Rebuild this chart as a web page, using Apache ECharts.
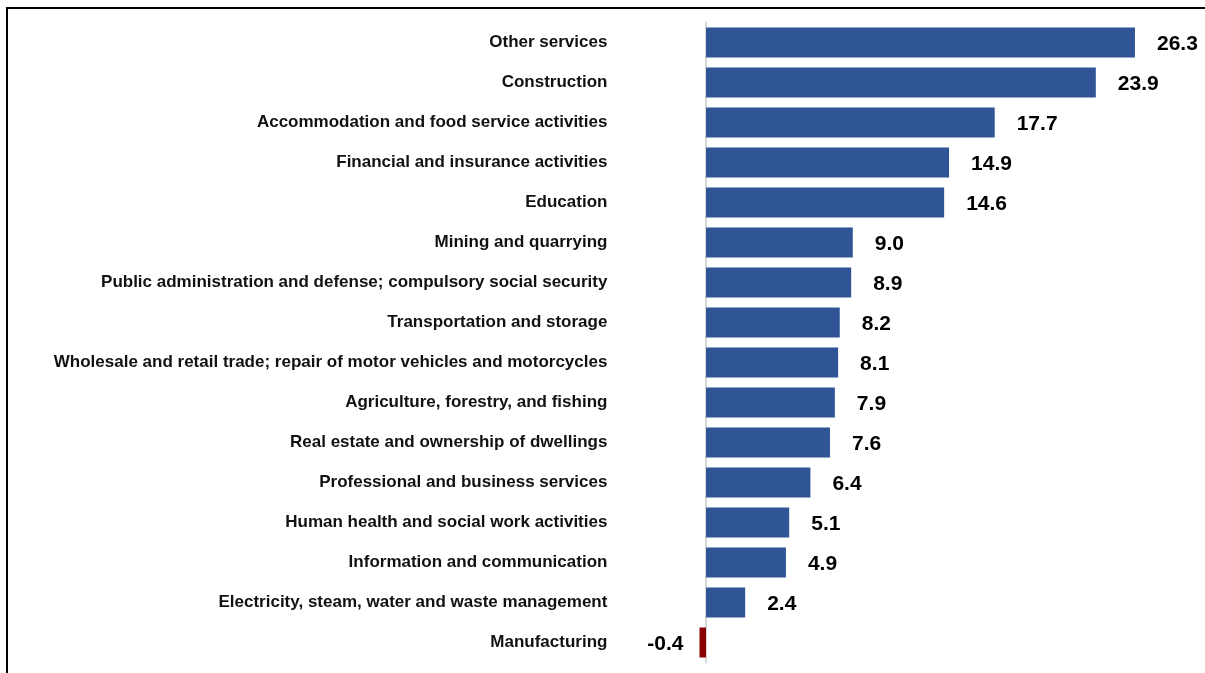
<!DOCTYPE html>
<html>
<head>
<meta charset="utf-8">
<script src="https://cdn.jsdelivr.net/npm/echarts@6/dist/echarts.min.js"></script>
<style>
html,body{margin:0;padding:0;background:#fff;}
#chart{width:1205px;height:673px;}
</style>
</head>
<body>
<div id="chart"></div>
<script>
const categories = [
  "Other services",
  "Construction",
  "Accommodation and food service activities",
  "Financial and insurance activities",
  "Education",
  "Mining and quarrying",
  "Public administration and defense; compulsory social security",
  "Transportation and storage",
  "Wholesale and retail trade; repair of motor vehicles and motorcycles",
  "Agriculture, forestry, and fishing",
  "Real estate and ownership of dwellings",
  "Professional and business services",
  "Human health and social work activities",
  "Information and communication",
  "Electricity, steam, water and waste management",
  "Manufacturing"
];
const values = [26.3, 23.9, 17.7, 14.9, 14.6, 9.0, 8.9, 8.2, 8.1, 7.9, 7.6, 6.4, 5.1, 4.9, 2.4, -0.4];

const chart = echarts.init(document.getElementById('chart'), null, {renderer: 'canvas'});
const FONT = '"Liberation Sans", Arial, sans-serif';
const data = values.map(v => ({
  value: v,
  itemStyle: {color: v < 0 ? '#8B0000' : '#2F5597'},
  label: v < 0 ? {position: 'left', distance: 16} : {position: 'right', distance: 22}
}));
chart.setOption({
  animation: false,
  backgroundColor: '#fff',
  graphic: [{
    type: 'rect',
    shape: {x: 7, y: 8, width: 1300, height: 800},
    style: {fill: 'none', stroke: '#000', lineWidth: 2},
    silent: true
  }],
  grid: {left: 673.4, right: 9.7, top: 22.5, bottom: 10.5, containLabel: false},
  xAxis: {
    type: 'value', min: -2, max: 30, show: false
  },
  yAxis: {
    type: 'category',
    data: categories,
    inverse: true,
    axisLine: {show: true, onZero: true, lineStyle: {color: '#d9d9d9', width: 2}},
    axisTick: {show: false},
    axisLabel: {
      margin: 66,
      fontFamily: FONT, fontWeight: 'bold', fontSize: 17, color: '#111',
      padding: [2, 0, 0, 0]
    },
    splitLine: {show: false}
  },
  series: [{
    type: 'bar',
    data: data,
    barWidth: 30,
    label: {
      show: true,
      fontFamily: FONT, fontWeight: 'bold', fontSize: 21, color: '#000',
      offset: [0, 2],
      formatter: p => p.value.toFixed(1)
    }
  }]
});
</script>
</body>
</html>
